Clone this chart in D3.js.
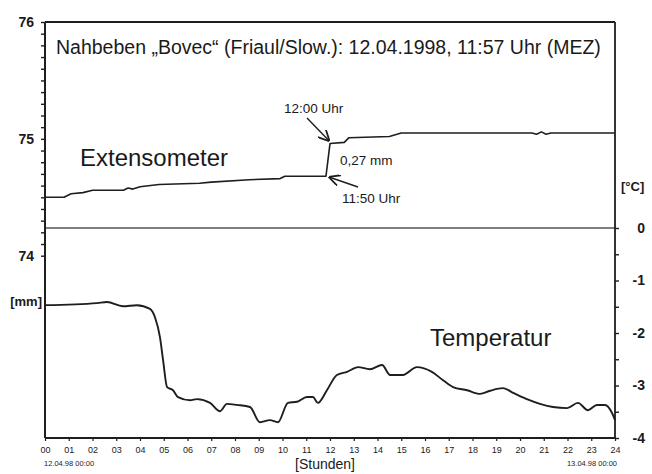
<!DOCTYPE html>
<html><head><meta charset="utf-8">
<script src="https://cdn.jsdelivr.net/npm/d3@7"></script>
<style>
body{margin:0;background:#fff;}
svg text{font-family:"Liberation Sans",Arial,sans-serif;fill:#1a1a1a;}
</style></head>
<body><svg id="c" width="652" height="474"></svg>
<script>
// ---- data ----
const extHours  = [0, 0.8, 1.1, 1.6, 2.0, 3.3, 3.5, 3.7, 4.0, 4.8, 6.5, 7.0, 8.6, 9.9, 10.1, 11.83, 12.0, 12.6, 12.8, 14.5, 15.0, 20.5, 20.7, 20.9, 21.1, 21.3, 24];
const extValues = [74.50, 74.50, 74.53, 74.54, 74.56, 74.56, 74.58, 74.57, 74.59, 74.61, 74.62, 74.63, 74.65, 74.66, 74.68, 74.68, 74.96, 74.97, 75.01, 75.02, 75.05, 75.05, 75.04, 75.06, 75.04, 75.05, 75.05];
const tempHours  = [0, 2.19, 2.61, 3.28, 3.87, 4.42, 4.63, 4.84, 4.97, 5.14, 5.39, 5.60, 6.11, 6.40, 6.95, 7.37, 7.66, 8.08, 8.63, 9.05, 9.47, 9.81, 10.23, 10.61, 11.03, 11.28, 11.49, 11.87, 12.29, 12.72, 13.18, 13.68, 14.19, 14.53, 15.07, 15.66, 16.29, 16.76, 17.18, 17.77, 18.32, 18.74, 19.28, 19.71, 20.29, 20.84, 21.39, 21.98, 22.44, 22.86, 23.24, 23.58, 23.87, 24];
const tempValues = [-1.47, -1.43, -1.41, -1.49, -1.47, -1.54, -1.70, -2.08, -2.51, -3.03, -3.09, -3.22, -3.28, -3.26, -3.33, -3.49, -3.35, -3.37, -3.41, -3.70, -3.66, -3.70, -3.33, -3.31, -3.22, -3.22, -3.33, -3.09, -2.80, -2.74, -2.65, -2.69, -2.61, -2.80, -2.80, -2.65, -2.74, -2.90, -3.03, -3.09, -3.16, -3.10, -3.05, -3.14, -3.26, -3.35, -3.41, -3.43, -3.33, -3.47, -3.37, -3.37, -3.52, -3.66];
const hourTicks = d3.range(0, 25);
const extTicks = d3.range(74, 76.0001, 0.1).map(v => +v.toFixed(1));
const extLabels = [74, 75, 76];
const tempTicks = d3.range(-4, 0.0001, 0.5);
const tempLabels = [0, -1, -2, -3, -4];
const title = "Nahbeben \u201EBovec\u201C (Friaul/Slow.): 12.04.1998, 11:57 Uhr (MEZ)";

// ---- layout ----
const L = 45, R = 615, T = 22, B = 438, SEP = 228;
const svg = d3.select("#c");
const x = d3.scaleLinear().domain([0, 24]).range([L, R]);
const yExt = d3.scaleLinear().domain([72.44, 76]).range([B, T]);
const yTemp = d3.scaleLinear().domain([-4, 0]).range([B, SEP]);
const ink = "#1e1e1e";

// separator (0 °C line)
svg.append("line").attr("x1", L).attr("x2", R).attr("y1", yTemp(0)).attr("y2", yTemp(0))
  .attr("stroke", "#555").attr("stroke-width", 1.6);

// frame top
svg.append("line").attr("x1", L).attr("x2", R).attr("y1", T).attr("y2", T).attr("stroke", ink).attr("stroke-width", 2.2);

// left axis
const la = svg.append("g").attr("transform", `translate(${L},0)`)
  .call(d3.axisLeft(yExt).tickValues(extTicks).tickSize(4)
    .tickFormat(d => extLabels.includes(d) ? String(d) : ""));
la.select(".domain").attr("stroke", ink).attr("stroke-width", 2).attr("d", `M0,${T}V${B}`);
la.selectAll(".tick line").attr("stroke", ink).attr("stroke-width", 1.4);
la.selectAll(".tick text").attr("x", -11).attr("font-size", 14).attr("font-weight", "bold").attr("fill", ink);

// right axis
const ra = svg.append("g").attr("transform", `translate(${R},0)`)
  .call(d3.axisRight(yTemp).tickValues(tempTicks).tickSize(4)
    .tickFormat(d => tempLabels.includes(d) ? String(d) : ""));
ra.select(".domain").attr("stroke", ink).attr("stroke-width", 1.8).attr("d", `M0,${T}V${B}`);
ra.selectAll(".tick line").attr("stroke", ink).attr("stroke-width", 1.4);
ra.selectAll(".tick text").attr("x", 30).attr("text-anchor", "end").attr("font-size", 14).attr("font-weight", "bold").attr("fill", ink);

// bottom axis
const ba = svg.append("g").attr("transform", `translate(0,${B})`)
  .call(d3.axisBottom(x).tickValues(hourTicks).tickSize(3).tickFormat(d3.format("02d")));
ba.select(".domain").attr("stroke", ink).attr("stroke-width", 2.2).attr("d", `M${L},0H${R}`);
ba.selectAll(".tick line").attr("stroke", ink).attr("stroke-width", 1.2);
ba.selectAll(".tick text").attr("y", 9).attr("font-size", 9).attr("fill", "#444");

// lines
const extLine = d3.line().x((d, i) => x(extHours[i])).y(d => yExt(d));
svg.append("path").datum(extValues).attr("d", extLine).attr("fill", "none")
  .attr("stroke", ink).attr("stroke-width", 1.6).attr("stroke-linejoin", "round");
const tempLine = d3.line().x((d, i) => x(tempHours[i])).y(d => yTemp(d)).curve(d3.curveMonotoneX);
svg.append("path").datum(tempValues).attr("d", tempLine).attr("fill", "none")
  .attr("stroke", ink).attr("stroke-width", 1.9).attr("stroke-linejoin", "round");

// texts
svg.append("text").attr("x", 56).attr("y", 54).attr("font-size", 19.5).text(title);
svg.append("text").attr("x", 80).attr("y", 166).attr("font-size", 24).text("Extensometer");
svg.append("text").attr("x", 430).attr("y", 346).attr("font-size", 24).text("Temperatur");
svg.append("text").attr("x", 42).attr("y", 306).attr("text-anchor", "end").attr("font-size", 13).attr("font-weight", "bold").text("[mm]");
svg.append("text").attr("x", 621).attr("y", 191).attr("font-size", 13).attr("font-weight", "bold").text("[\u00B0C]");
svg.append("text").attr("x", 44).attr("y", 466).attr("font-size", 7.5).attr("fill", "#444").text("12.04.98 00:00");
svg.append("text").attr("x", 617).attr("y", 466).attr("text-anchor", "end").attr("font-size", 7.5).attr("fill", "#444").text("13.04.98 00:00");
svg.append("text").attr("x", 325).attr("y", 469).attr("text-anchor", "middle").attr("font-size", 14).text("[Stunden]");

// annotations
svg.append("text").attr("x", 284).attr("y", 113).attr("font-size", 13.5).text("12:00 Uhr");
svg.append("text").attr("x", 340).attr("y", 165).attr("font-size", 13.5).text("0,27 mm");
svg.append("text").attr("x", 342).attr("y", 203).attr("font-size", 13.5).text("11:50 Uhr");
const defs = svg.append("defs");
defs.append("marker").attr("id", "ah").attr("viewBox", "0 0 10 10").attr("refX", 9).attr("refY", 5)
  .attr("markerWidth", 8).attr("markerHeight", 8).attr("orient", "auto")
  .append("path").attr("d", "M0,0L10,5L0,10").attr("fill", "none").attr("stroke", ink).attr("stroke-width", 1.6);
svg.append("line").attr("x1", 307).attr("y1", 118).attr("x2", x(11.95)).attr("y2", yExt(74.96) - 3)
  .attr("stroke", ink).attr("stroke-width", 1.4).attr("marker-end", "url(#ah)");
svg.append("line").attr("x1", 358).attr("y1", 187).attr("x2", x(11.9) + 2).attr("y2", yExt(74.68) + 1)
  .attr("stroke", ink).attr("stroke-width", 1.4).attr("marker-end", "url(#ah)");
</script></body></html>
